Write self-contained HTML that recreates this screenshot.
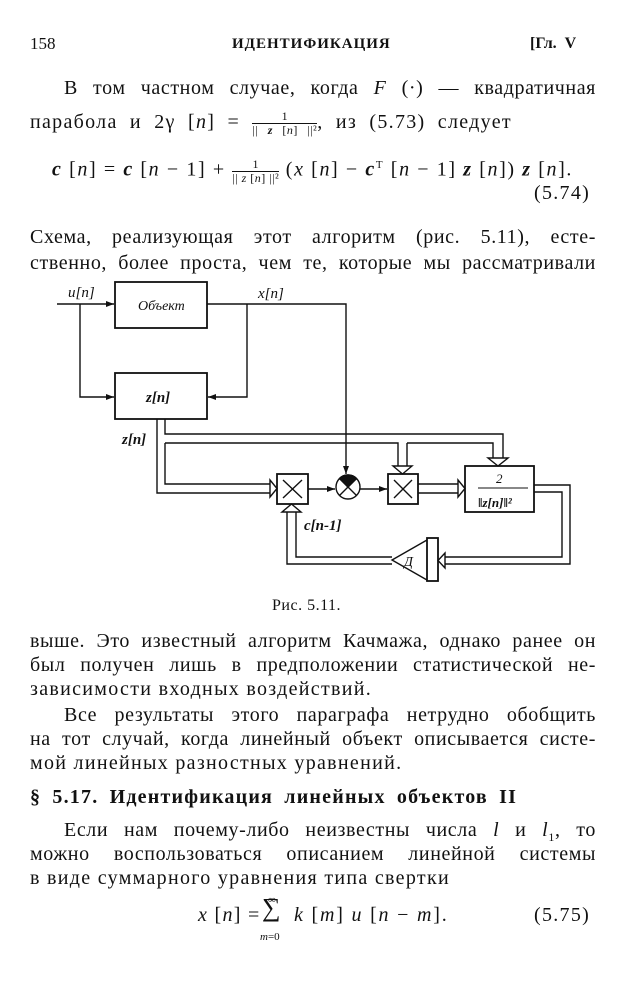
<!DOCTYPE html>
<html><head><meta charset="utf-8"><style>
body{margin:0;width:632px;height:990px;background:#fff;position:relative;font-family:"Liberation Serif","DejaVu Serif",serif;color:#111;overflow:hidden}
.l{position:absolute;white-space:nowrap;font-size:20px;line-height:24px;letter-spacing:1.3px}
.j{position:absolute;left:30px;width:566px;font-size:20px;line-height:24px;text-align:justify;text-align-last:justify;white-space:nowrap;letter-spacing:0.6px}
i{font-style:italic}
.fr{display:inline-block;vertical-align:middle;text-align:center;font-size:12px;line-height:13px;letter-spacing:0.5px}
.fr span{display:block}
.fr .n{border-bottom:1px solid #111;padding:0 2px}
</style></head><body>
<div class="l" style="left:30px;top:32px;font-size:17px;letter-spacing:0">158</div>
<div class="l" style="left:232px;top:32px;font-size:15px;font-weight:bold;letter-spacing:1px">ИДЕНТИФИКАЦИЯ</div>
<div class="l" style="left:530px;top:32px;font-size:16px;font-weight:bold;letter-spacing:0">[Гл.&nbsp; V</div>

<div class="j" style="top:76px;left:64px;width:532px">В том частном случае, когда <i>F</i> (·) — квадратичная</div>
<div class="l" style="left:30px;top:110px;word-spacing:6px">парабола и 2γ [<i>n</i>] = <span class="fr"><span class="n">1</span><span>|| <b><i>z</i></b> [<i>n</i>] ||²</span></span>, из (5.73) следует</div>
<div class="l" style="left:52px;top:153px;letter-spacing:1.6px"><b><i>c</i></b> [<i>n</i>] = <b><i>c</i></b> [<i>n</i> − 1] + <span class="fr"><span class="n">1</span><span>|| <i>z</i> [<i>n</i>] ||²</span></span> (<i>x</i> [<i>n</i>] − <b><i>c</i></b><sup style="font-size:11px">T</sup> [<i>n</i> − 1] <b><i>z</i></b> [<i>n</i>]) <b><i>z</i></b> [<i>n</i>].</div>
<div class="l" style="left:534px;top:181px">(5.74)</div>
<div class="j" style="top:225px">Схема, реализующая этот алгоритм (рис. 5.11), есте-</div>
<div class="j" style="top:251px">ственно, более проста, чем те, которые мы рассматривали</div>

<svg style="position:absolute;left:0;top:0" width="632" height="990">
<defs><marker id="a" markerWidth="8" markerHeight="6" refX="8" refY="3" orient="auto" markerUnits="userSpaceOnUse"><path d="M0,0 L8,3 L0,6 Z" fill="#111"/></marker></defs>
<g stroke="#111" stroke-width="1.4" fill="none">
<rect x="115" y="282" width="92" height="46" stroke-width="1.8"/>
<rect x="115" y="373" width="92" height="46" stroke-width="1.8"/>
<line x1="57" y1="304" x2="114" y2="304" marker-end="url(#a)"/>
<polyline points="80,304 80,397 114,397" marker-end="url(#a)"/>
<polyline points="207,304 346,304 346,474" marker-end="url(#a)"/>
<polyline points="247,304 247,397 208,397" marker-end="url(#a)"/>
<polyline points="157,419 157,493 270,493"/>
<polyline points="165,419 165,434 503,434 503,458"/>
<polyline points="165,443 165,484 270,484"/>
<polyline points="165,443 398,443 398,466"/>
<polyline points="407,443 493,443 493,458"/>
<polyline points="407,443 407,466"/>
<path d="M393,466 L412,466 L402.5,474 Z M488,458 L508,458 L498,466 Z M270,480 L277,488.5 L270,497 Z M458,480 L465,488.5 L458,497 Z" fill="#fff"/>
<rect x="277" y="474" width="31" height="30" stroke-width="1.8"/>
<rect x="388" y="474" width="30" height="30" stroke-width="1.8"/>
<rect x="465" y="466" width="69" height="46" stroke-width="1.8"/>
<path d="M283,480 L302,498 M302,480 L283,498 M394,480 L412,498 M412,480 L394,498"/>
<line x1="308" y1="489" x2="335" y2="489" marker-end="url(#a)"/>
<line x1="360" y1="489" x2="387" y2="489" marker-end="url(#a)"/>
<circle cx="348" cy="487" r="12"/>
<path d="M339.5,478.5 L356.5,495.5 M356.5,478.5 L339.5,495.5"/>
<path d="M348,487 L339.5,478.5 A12,12 0 0 1 356.5,478.5 Z" fill="#111"/>
<polyline points="418,484 458,484"/><polyline points="418,493 458,493"/>
<polyline points="534,485 570,485 570,564 445,564"/>
<polyline points="534,492 562,492 562,557 445,557"/>
<path d="M445,553 L438,560.5 L445,568 Z" fill="#fff"/>
<rect x="427" y="538" width="11" height="43" stroke-width="1.8"/>
<path d="M427,540 L392,560 L427,580"/>
<polyline points="392,557 296,557 296,512"/>
<polyline points="392,564 287,564 287,512"/>
<path d="M282,512 L301,512 L291.5,504 Z" fill="#fff"/>
</g>
<g font-family="Liberation Serif,serif" font-style="italic" font-size="15" fill="#111">
<text x="68" y="297">u[n]</text>
<text x="138" y="310" font-size="14">Объект</text>
<text x="258" y="298">x[n]</text>
<text x="146" y="402" font-weight="bold">z[n]</text>
<text x="122" y="444" font-weight="bold">z[n]</text>
<text x="304" y="530" font-weight="bold">c[n-1]</text>
<text x="496" y="483" font-size="13">2</text>
<line x1="478" y1="488" x2="528" y2="488" stroke="#111"/>
<text x="478" y="507" font-size="13" font-weight="bold">‖z[n]‖²</text>
<text x="404" y="566" font-size="14">Д</text>
</g>
</svg>

<div class="l" style="left:272px;top:594px;font-size:16px;letter-spacing:0.5px">Рис. 5.11.</div>
<div class="j" style="top:629px">выше. Это известный алгоритм Качмажа, однако ранее он</div>
<div class="j" style="top:653px">был получен лишь в предположении статистической не-</div>
<div class="l" style="left:30px;top:677px">зависимости входных воздействий.</div>
<div class="j" style="top:703px;left:64px;width:532px">Все результаты этого параграфа нетрудно обобщить</div>
<div class="j" style="top:727px">на тот случай, когда линейный объект описывается систе-</div>
<div class="l" style="left:30px;top:751px">мой линейных разностных уравнений.</div>
<div class="l" style="left:30px;top:785px;font-weight:bold;letter-spacing:1.2px;word-spacing:5px">§ 5.17. Идентификация линейных объектов II</div>
<div class="j" style="top:818px;left:64px;width:532px">Если нам почему-либо неизвестны числа <i>l</i> и <i>l</i><sub style="font-size:12px">1</sub>, то</div>
<div class="j" style="top:842px">можно воспользоваться описанием линейной системы</div>
<div class="l" style="left:30px;top:866px">в виде суммарного уравнения типа свертки</div>
<div class="l" style="left:198px;top:903px"><i>x</i> [<i>n</i>] = </div>
<div class="l" style="left:268px;top:888px;font-size:11px">∞</div>
<div class="l" style="left:262px;top:896px;font-size:26px">∑</div>
<div class="l" style="left:260px;top:925px;font-size:11px;letter-spacing:0"><i>m</i>=0</div>
<div class="l" style="left:294px;top:903px;letter-spacing:1.8px"><i>k</i> [<i>m</i>] <i>u</i> [<i>n</i> − <i>m</i>].</div>
<div class="l" style="left:534px;top:903px">(5.75)</div>
</body></html>
